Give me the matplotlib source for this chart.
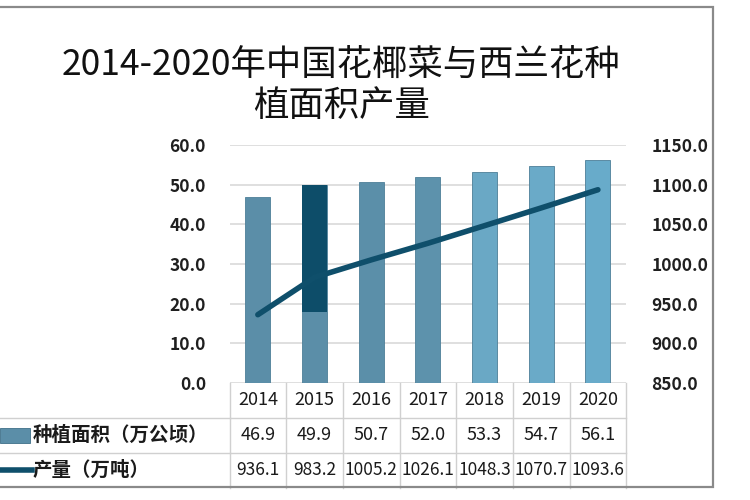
import matplotlib.pyplot as plt
import matplotlib.transforms as mtransforms
from matplotlib.patches import Rectangle
import numpy as np

plt.rcParams['font.family'] = ['Noto Sans CJK SC', 'DejaVu Sans']

# data
years = ['2014', '2015', '2016', '2017', '2018', '2019', '2020']
area = [46.9, 49.9, 50.7, 52.0, 53.3, 54.7, 56.1]          # 万公顷
output = [936.1, 983.2, 1005.2, 1026.1, 1048.3, 1070.7, 1093.6]  # 万吨
area_label = '种植面积（万公顷）'
output_label = '产量（万吨）'
title = '2014-2020年中国花椰菜与西兰花种\n植面积产量'

bar_colors = ['#5b8ea8', '#5b8ea8', '#5b8fa9', '#5d92ac', '#6aa8c5', '#6aaac8', '#68abca']
line_color = '#0f4f6b'

fig = plt.figure(figsize=(7.5, 5), dpi=100)
fig.patch.set_facecolor('white')

# outer frame (cut off on the left like the reference)
fig.patches.append(Rectangle((-0.02, 0.026), 0.97, 0.96, transform=fig.transFigure,
                             fill=False, edgecolor='#8a8a8a', lw=1.6))

ax = fig.add_axes([0.306, 0.234, 0.529, 0.476])
x = np.arange(len(years))
ax.bar(x, area, width=0.44, color=bar_colors, edgecolor='#4d7f98', lw=0.6, zorder=2)
# 2015 bar has a dark upper part in the reference
ax.bar(x[1], area[1] - 18, bottom=18, width=0.44, color='#0d4d69', zorder=2.1)

ax.set_xlim(-0.5, len(years) - 0.5)
ax.set_ylim(0, 60)
ax.set_yticks(np.arange(0, 61, 10))
ax.set_yticklabels([f'{v:.1f}' for v in np.arange(0, 61, 10)], fontweight='bold')
ax.yaxis.grid(True, color='#d9d9d9', lw=1.2, zorder=0)
ax.set_axisbelow(True)
ax.set_xticks([])
for s in ax.spines.values():
    s.set_visible(False)
ax.tick_params(axis='y', length=0, pad=17, labelsize=12.5, labelcolor='#1f1f1f')

ax2 = ax.twinx()
ax2.plot(x, output, color=line_color, lw=4, solid_capstyle='round', zorder=5)
ax2.set_ylim(850, 1150)
ax2.set_yticks(np.arange(850, 1151, 50))
ax2.set_yticklabels([f'{v:.1f}' for v in np.arange(850, 1151, 50)], fontweight='bold')
for s in ax2.spines.values():
    s.set_visible(False)
ax2.tick_params(axis='y', length=0, pad=18, labelsize=12.5, labelcolor='#1f1f1f')
ax2.set_zorder(ax.get_zorder() + 1)
ax2.patch.set_visible(False)

# data table below the plot: x in data coords, y in axes coords
trans = mtransforms.blended_transform_factory(ax.transData, ax.transAxes)
row_h = 0.147
rows_y = [-row_h * 0.5, -row_h * 1.5, -row_h * 2.5]
grid_kw = dict(color='#d0d0d0', lw=1.0, transform=trans, clip_on=False)
for k in range(len(years) + 1):
    ax.plot([k - 0.5, k - 0.5], [0, -row_h * 3], **grid_kw)
for j in (1, 2):
    ax.plot([-0.5, len(years) - 0.5], [-row_h * j, -row_h * j], **grid_kw)
# row label lines extending to the left edge of figure
lab_trans = mtransforms.blended_transform_factory(fig.transFigure, ax.transAxes)
for j in (1, 2):
    fig.lines.append(plt.Line2D([0, 0.306], [-row_h * j, -row_h * j], transform=lab_trans,
                                color='#d0d0d0', lw=1.0))

for i, yr in enumerate(years):
    ax.text(i, rows_y[0], yr, transform=trans, ha='center', va='center', fontsize=13, color='#1a1a1a')
    ax.text(i, rows_y[1], f'{area[i]:.1f}', transform=trans, ha='center', va='center', fontsize=13, color='#1a1a1a')
    ax.text(i, rows_y[2], f'{output[i]:.1f}', transform=trans, ha='center', va='center', fontsize=12.5, color='#1a1a1a')

# legend keys + row labels
ax.add_patch(Rectangle((0, rows_y[1] - 0.03), 0.04, 0.06, transform=lab_trans, clip_on=False,
                       facecolor='#5b8ea8', edgecolor='#3f6f88', lw=0.6))
ax.plot([0, 0.042], [rows_y[2], rows_y[2]], transform=lab_trans, clip_on=False,
        color=line_color, lw=4)
ax.text(0.044, rows_y[1], area_label, transform=lab_trans, ha='left', va='center',
        fontsize=14, fontweight='bold', color='#1a1a1a')
ax.text(0.044, rows_y[2], output_label, transform=lab_trans, ha='left', va='center',
        fontsize=14, fontweight='bold', color='#1a1a1a')

fig.text(0.455, 0.828, title, ha='center', va='center', fontsize=25.5,
         linespacing=1.15, color='#111111')

fig.savefig('out.png', dpi=100, facecolor='white')
